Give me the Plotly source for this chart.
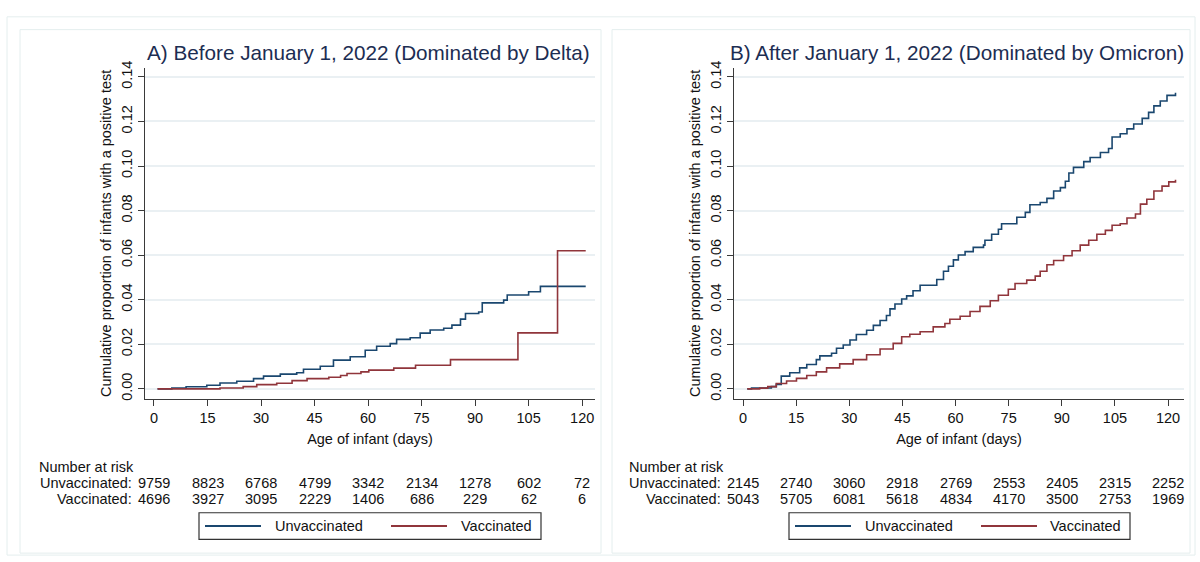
import plotly.graph_objects as go

# ---------------- data ----------------
ticks_days = [0, 15, 30, 45, 60, 75, 90, 105, 120]

A_unvac_days = [1, 5, 9, 14.8, 18.5, 23.2, 27.9, 30.7, 35.4, 40, 41.9, 46.6, 50.3, 55, 59.2, 62.4,
                66.2, 68, 71.8, 74.6, 77.4, 81.2, 83.5, 85.9, 87.3, 91, 92, 98, 99, 105, 108.3, 121]
A_unvac_vals = [0, 0.0004, 0.0009, 0.0016, 0.0026, 0.0034, 0.0046, 0.0057, 0.0066, 0.0072, 0.0088,
                0.0101, 0.0129, 0.0144, 0.0173, 0.0191, 0.0203, 0.0222, 0.0229, 0.0250, 0.0264,
                0.0272, 0.0286, 0.0313, 0.0338, 0.0345, 0.0386, 0.0398, 0.0421, 0.0436, 0.0460, 0.0460]

A_vac_days = [1, 18.5, 25, 28.8, 34.4, 38.7, 42.9, 49, 52.3, 54.1, 58, 60.2, 67.2, 73.3, 83.1, 102, 113.1, 121]
A_vac_vals = [0, 0.0004, 0.0010, 0.0019, 0.0025, 0.0037, 0.0046, 0.0052, 0.0060, 0.0069, 0.0076,
              0.0084, 0.0093, 0.0106, 0.0131, 0.0251, 0.0620, 0.0620]

B_unvac_days = [1.2, 2.4, 8, 9.4, 10.8, 13.2, 16, 18, 20.7, 21.7, 25, 26.4, 28.3, 30.2, 32, 34.9,
                36.8, 38.7, 40.5, 41.5, 42.9, 44.8, 46.2, 48, 50, 54.7, 56.6, 58, 59.4, 60.8, 62.7,
                65, 67.9, 68.3, 70.2, 72.1, 73, 77.3, 79.7, 81, 83.9, 85.8, 87.7, 89.6, 91, 92,
                93.3, 96.2, 98, 100.9, 103.2, 104.2, 106.5, 108.4, 110.3, 112.7, 114.5, 116,
                117.8, 119.7, 122.1]
B_unvac_vals = [0, 0.0004, 0.0010, 0.0020, 0.0057, 0.0072, 0.0094, 0.0109, 0.0131, 0.0148, 0.0160,
                0.0182, 0.0197, 0.0219, 0.0244, 0.0263, 0.0285, 0.0307, 0.0329, 0.0359, 0.0381,
                0.0403, 0.0417, 0.0440, 0.0465, 0.0491, 0.0528, 0.0550, 0.0579, 0.0601, 0.0616,
                0.0635, 0.0645, 0.0667, 0.0694, 0.0716, 0.0741, 0.0770, 0.0792, 0.0826, 0.0836,
                0.0855, 0.0888, 0.0903, 0.0932, 0.0969, 0.0994, 0.1020, 0.1038, 0.1061, 0.1079,
                0.1130, 0.1145, 0.1167, 0.1189, 0.1214, 0.1241, 0.1270, 0.1292, 0.1317, 0.1329]

B_vac_days = [1.2, 4.7, 7, 9.4, 12.3, 15.1, 18, 20.7, 23.6, 27.3, 31.1, 34.9, 38.7, 42.4, 44.8,
              47.1, 50, 53.7, 57, 58.4, 61.3, 64.1, 66.9, 69.8, 72.1, 74.9, 76.8, 80.1, 82.5,
              83.9, 85.8, 87.7, 90.5, 92.9, 95.2, 97.6, 99.9, 102.3, 104.2, 106.5, 108.4, 110.8,
              112.2, 114, 116, 118.3, 120.2, 122.1]
B_vac_vals = [0, 0.0003, 0.0010, 0.0024, 0.0035, 0.0047, 0.0060, 0.0076, 0.0094, 0.0112, 0.0131,
              0.0153, 0.0179, 0.0204, 0.0234, 0.0245, 0.0256, 0.0278, 0.0293, 0.0312, 0.0326,
              0.0347, 0.0370, 0.0395, 0.0420, 0.0447, 0.0473, 0.0488, 0.0506, 0.0528, 0.0557,
              0.0576, 0.0597, 0.0620, 0.0645, 0.0667, 0.0694, 0.0711, 0.0734, 0.0741, 0.0767,
              0.0785, 0.0829, 0.0851, 0.0888, 0.0910, 0.0929, 0.0939]

A_risk_unvac = [9759, 8823, 6768, 4799, 3342, 2134, 1278, 602, 72]
A_risk_vac = [4696, 3927, 3095, 2229, 1406, 686, 229, 62, 6]
B_risk_unvac = [2145, 2740, 3060, 2918, 2769, 2553, 2405, 2315, 2252]
B_risk_vac = [5043, 5705, 6081, 5618, 4834, 4170, 3500, 2753, 1969]

titles = ["A) Before January 1, 2022 (Dominated by Delta)",
          "B) After January 1, 2022 (Dominated by Omicron)"]
series_names = ["Unvaccinated", "Vaccinated"]

# ---------------- style ----------------
W, H = 1200, 562
BLUE = "#1a476f"
RED = "#90353b"
TITLE_C = "#1c2d52"
AX_C = "#3a3a3a"
GRID_C = "#eaf0f3"
FRAME_C = "#e4eeee"
FONT = "Arial, Liberation Sans, sans-serif"
FS = 14.5

def px(x):
    return x / W

def py(y):
    return 1 - y / H

fig = go.Figure()

panels = [
    dict(xa="x", ya="y", xdom=(145, 595), xr=(-2.52, 123.6),
         unv=(A_unvac_days, A_unvac_vals), vac=(A_vac_days, A_vac_vals),
         ru=A_risk_unvac, rv=A_risk_vac, nar_x=37, lab_r=134,
         leg=(199, 541, 205, 261, 273, 391, 447, 459)),
    dict(xa="x2", ya="y2", xdom=(734, 1184), xr=(-2.54, 124.5),
         unv=(B_unvac_days, B_unvac_vals), vac=(B_vac_days, B_vac_vals),
         ru=B_risk_unvac, rv=B_risk_vac, nar_x=627, lab_r=723,
         leg=(789, 1130, 795, 851, 863, 981, 1037, 1048)),
]

shapes = []
annotations = []

# panel frames
shapes.append(dict(type="rect", xref="paper", yref="paper", x0=px(7), x1=px(1195), y0=py(557), y1=py(10),
                   line=dict(color=FRAME_C, width=1), layer="below"))
shapes.append(dict(type="rect", xref="paper", yref="paper", x0=px(20), x1=px(601), y0=py(555), y1=py(23),
                   line=dict(color=FRAME_C, width=1), layer="below"))
shapes.append(dict(type="rect", xref="paper", yref="paper", x0=px(612), x1=px(1190), y0=py(555), y1=py(23),
                   line=dict(color=FRAME_C, width=1), layer="below"))

for i, p in enumerate(panels):
    xa, ya = p["xa"], p["ya"]
    for (d, v), name, col in [(p["unv"], series_names[0], BLUE), (p["vac"], series_names[1], RED)]:
        fig.add_trace(go.Scatter(x=d, y=v, mode="lines", name=name, xaxis=xa, yaxis=ya,
                                 line=dict(color=col, width=1.6, shape="hv"), showlegend=False))
    cx = (p["xdom"][0] + p["xdom"][1]) / 2
    # title
    annotations.append(dict(text=titles[i], xref="paper", yref="paper", x=px(cx - 2), y=py(46),
                            xanchor="center", yanchor="middle", showarrow=False,
                            font=dict(family=FONT, size=20.7, color=TITLE_C)))
    # risk table
    annotations.append(dict(text="Number at risk", xref="paper", yref="paper", x=px(p["nar_x"]), y=py(467),
                            xanchor="left", yanchor="middle", showarrow=False,
                            font=dict(family=FONT, size=FS, color="#111")))
    for lab, vals, yy in [("Unvaccinated:", p["ru"], 484), ("Vaccinated:", p["rv"], 500)]:
        annotations.append(dict(text=lab, xref="paper", yref="paper", x=px(p["lab_r"]), y=py(yy),
                                xanchor="right", yanchor="middle", showarrow=False,
                                font=dict(family=FONT, size=FS, color="#111")))
        for t, n in zip(ticks_days, vals):
            annotations.append(dict(text=str(n), xref=xa, yref="paper", x=t, y=py(yy),
                                    xanchor="center", yanchor="middle", showarrow=False,
                                    font=dict(family=FONT, size=FS, color="#111")))
    # legend box
    bx0, bx1, l1a, l1b, t1, l2a, l2b, t2 = p["leg"]
    shapes.append(dict(type="rect", xref="paper", yref="paper", x0=px(bx0), x1=px(bx1),
                       y0=py(541), y1=py(514), line=dict(color="#333", width=1.2), fillcolor="white"))
    shapes.append(dict(type="line", xref="paper", yref="paper", x0=px(l1a), x1=px(l1b),
                       y0=py(527.5), y1=py(527.5), line=dict(color=BLUE, width=2)))
    shapes.append(dict(type="line", xref="paper", yref="paper", x0=px(l2a), x1=px(l2b),
                       y0=py(527.5), y1=py(527.5), line=dict(color=RED, width=2)))
    for txt, xx in [(series_names[0], t1), (series_names[1], t2)]:
        annotations.append(dict(text=txt, xref="paper", yref="paper", x=px(xx), y=py(527.5),
                                xanchor="left", yanchor="middle", showarrow=False,
                                font=dict(family=FONT, size=FS, color="#111")))

axis_common_x = dict(range=None, tickmode="array", tickvals=ticks_days, ticks="outside", ticklen=6,
                     tickcolor=AX_C, tickwidth=1, showline=True, linecolor=AX_C, linewidth=1.2,
                     showgrid=False, zeroline=False, tickfont=dict(family=FONT, size=FS, color="#111"),
                     title=dict(text="Age of infant (days)", font=dict(family=FONT, size=FS, color="#111"),
                                standoff=8))
axis_common_y = dict(range=[-0.0044, 0.144], tickmode="array",
                     tickvals=[0, 0.02, 0.04, 0.06, 0.08, 0.10, 0.12, 0.14],
                     ticktext=["0.00", "0.02", "0.04", "0.06", "0.08", "0.10", "0.12", "0.14"],
                     tickangle=-90, ticks="outside", ticklen=6, tickcolor=AX_C, tickwidth=1,
                     showline=True, linecolor=AX_C, linewidth=1.2, showgrid=True, gridcolor=GRID_C,
                     gridwidth=1.6, zeroline=False, tickfont=dict(family=FONT, size=FS, color="#111"),
                     title=dict(text="Cumulative proportion of infants with a positive test",
                                font=dict(family=FONT, size=FS, color="#111"), standoff=4))

ydom = (py(398), py(62))
layout = dict(width=W, height=H, margin=dict(l=0, r=0, t=0, b=0),
              paper_bgcolor="white", plot_bgcolor="white", showlegend=False,
              shapes=shapes, annotations=annotations)
for i, p in enumerate(panels):
    sx = "" if i == 0 else "2"
    xa = dict(axis_common_x)
    xa["range"] = list(p["xr"])
    xa["domain"] = [px(p["xdom"][0]), px(p["xdom"][1])]
    xa["anchor"] = "y" + sx
    ya = dict(axis_common_y)
    ya["domain"] = list(ydom)
    ya["anchor"] = "x" + sx
    layout["xaxis" + sx] = xa
    layout["yaxis" + sx] = ya

fig.update_layout(**layout)
fig.write_html("out.html", config={"displayModeBar": False},
               post_script="document.body.style.margin='0';document.body.style.overflow='hidden';")
